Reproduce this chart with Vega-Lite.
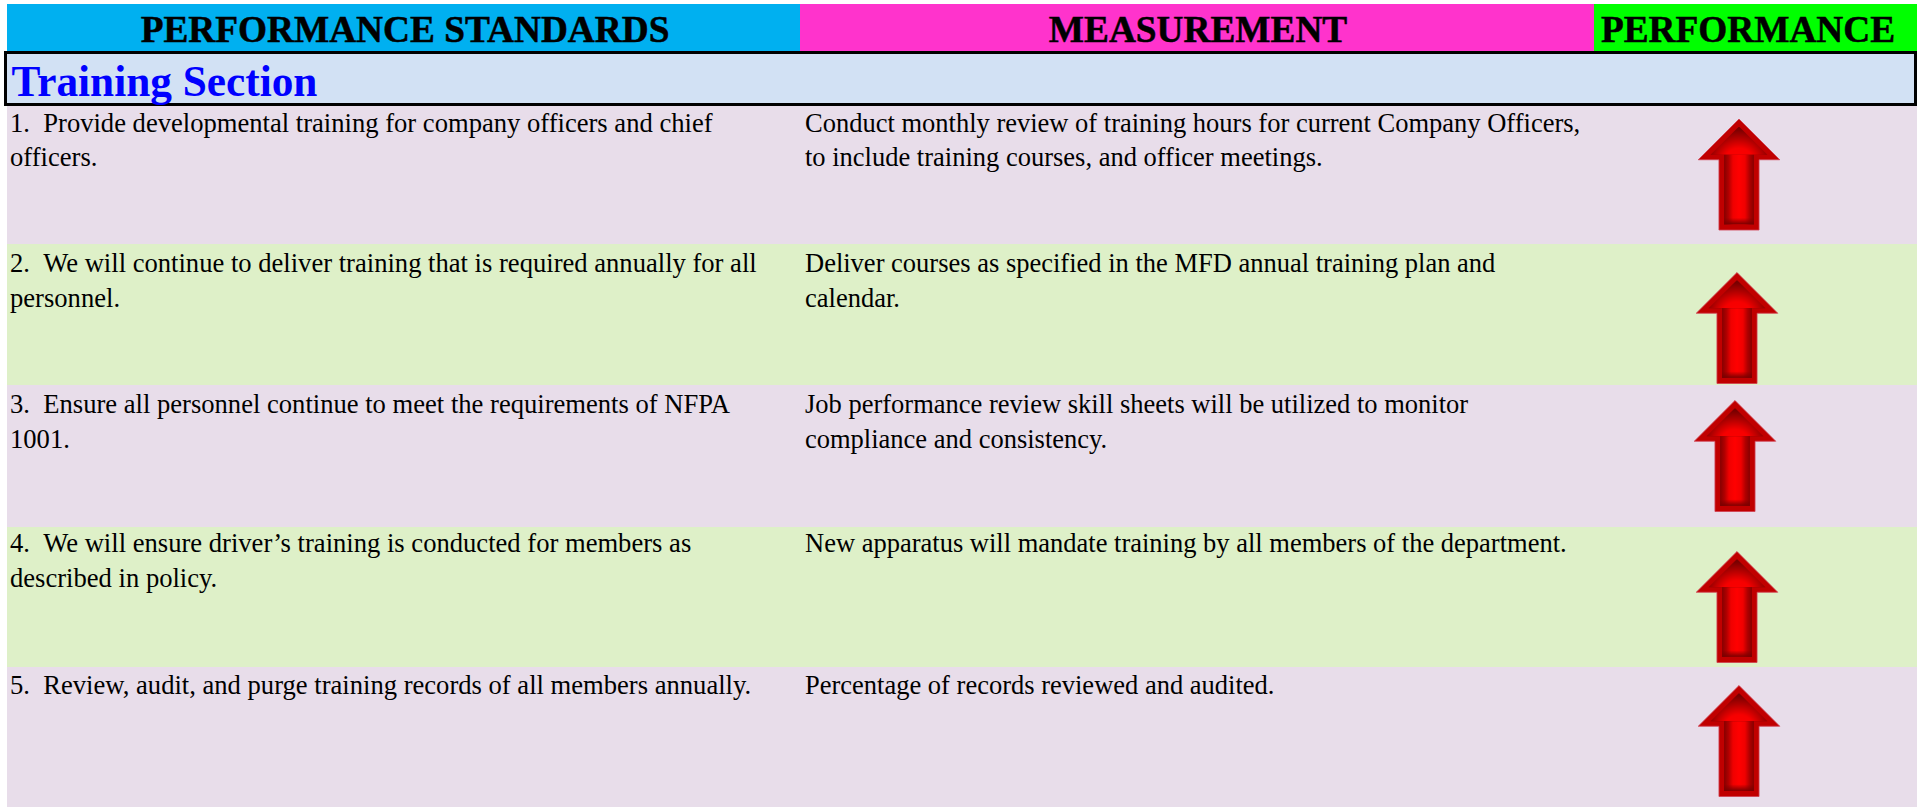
{"$schema":"https://vega.github.io/schema/vega-lite/v6.json","width":1923,"height":809,"padding":0,"autosize":"none","background":"white","config":{"view":{"stroke":null},"text":{"font":"Liberation Serif"}},
"datasets":{
"headers":[{"label":"PERFORMANCE STANDARDS","col":0,"colEnd":1,"row":0,"rowEnd":1},{"label":"MEASUREMENT","col":1,"colEnd":2,"row":0,"rowEnd":1},{"label":"PERFORMANCE","col":2,"colEnd":3,"row":0,"rowEnd":1}],
"section":[{"label":"Training Section","col":0,"colEnd":3,"row":1,"rowEnd":2}],
"rows":[
{"row":2,"rowEnd":3,"band":"odd","standard":"1. \u00a0Provide developmental training for company officers and chief\nofficers.","measurement":"Conduct monthly review of training hours for current Company Officers,\nto include training courses, and officer meetings.","performance":"up"},
{"row":3,"rowEnd":4,"band":"even","standard":"2. \u00a0We will continue to deliver training that is required annually for all\npersonnel.","measurement":"Deliver courses as specified in the MFD annual training plan and\ncalendar.","performance":"up"},
{"row":4,"rowEnd":5,"band":"odd","standard":"3. \u00a0Ensure all personnel continue to meet the requirements of NFPA\n1001.","measurement":"Job performance review skill sheets will be utilized to monitor\ncompliance and consistency.","performance":"up"},
{"row":5,"rowEnd":6,"band":"even","standard":"4. \u00a0We will ensure driver’s training is conducted for members as\ndescribed in policy.","measurement":"New apparatus will mandate training by all members of the department.","performance":"up"},
{"row":6,"rowEnd":7,"band":"odd","standard":"5. \u00a0Review, audit, and purge training records of all members annually.","measurement":"Percentage of records reviewed and audited.","performance":"up"}]},
"resolve":{"scale":{"x":"independent","y":"independent"}},
"layer":[
{"layer":[
{"data":{"name":"rows"},"mark":{"type":"rect"},"encoding":{"x":{"datum":0,"type":"quantitative","axis":null,"scale":{"domain":[0,1,2,3],"range":[7,800,1594,1917]}},"x2":{"datum":3},"y":{"field":"row","type":"quantitative","axis":null,"scale":{"domain":[0,1,2,3,4,5,6,7],"range":[4,52,106,244,385,527,667,807]}},"y2":{"field":"rowEnd"},"color":{"field":"band","type":"nominal","legend":null,"scale":{"domain":["odd","even"],"range":["#E8DDEA","#DEF0C8"]}}}},
{"data":{"name":"headers"},"mark":{"type":"rect"},"encoding":{"x":{"field":"col","type":"quantitative"},"x2":{"field":"colEnd"},"y":{"field":"row","type":"quantitative"},"y2":{"field":"rowEnd"},"fill":{"field":"label","type":"nominal","legend":null,"scale":{"domain":["PERFORMANCE STANDARDS","MEASUREMENT","PERFORMANCE"],"range":["#00B0F0","#FF33CC","#00FF00"]}}}}
]},
{"data":{"name":"section"},"layer":[
{"mark":{"type":"rect","fill":"#D2E1F4","stroke":"#000000","strokeWidth":3},"encoding":{"x":{"field":"col","type":"quantitative","axis":null,"scale":{"domain":[0,3],"range":[5.5,1915.5]}},"x2":{"field":"colEnd"},"y":{"field":"row","type":"quantitative","axis":null,"scale":{"domain":[1,2],"range":[52.5,104.5]}},"y2":{"field":"rowEnd"}}},
{"mark":{"type":"text","align":"left","baseline":"middle","font":"Liberation Serif","fontWeight":"bold","fontSize":43.3,"fill":"#0000FF","xOffset":6,"yOffset":30},"encoding":{"x":{"field":"col","type":"quantitative"},"y":{"field":"row","type":"quantitative"},"text":{"field":"label"}}}
]},
{"data":{"name":"headers"},"mark":{"type":"text","align":"center","baseline":"middle","font":"Liberation Serif","fontWeight":"bold","fontSize":37.3,"fill":"#000000","stroke":"#000000","strokeWidth":0.5},"encoding":{"x":{"field":"col","type":"quantitative","axis":null,"scale":{"domain":[0,1,2],"range":[405,1198,1748]}},"y":{"field":"row","type":"quantitative","axis":null,"scale":{"domain":[0,1],"range":[31,81]}},"text":{"field":"label"}}},
{"data":{"name":"rows"},"layer":[
{"mark":{"type":"text","align":"left","baseline":"top","font":"Liberation Serif","fontSize":26.6,"lineHeight":34.5,"lineBreak":"\n","fill":"#000000"},"encoding":{"x":{"datum":0,"type":"quantitative","axis":null,"scale":{"domain":[0,1],"range":[10,805]}},"y":{"field":"row","type":"quantitative","axis":null,"scale":{"domain":[2,3,4,5,6],"range":[110.5,251,392,531,673]}},"text":{"field":"standard"}}},
{"mark":{"type":"text","align":"left","baseline":"top","font":"Liberation Serif","fontSize":26.5,"lineHeight":34.5,"lineBreak":"\n","fill":"#000000"},"encoding":{"x":{"datum":1,"type":"quantitative"},"y":{"field":"row","type":"quantitative"},"text":{"field":"measurement"}}}
]},
{"data":{"name":"rows"},"encoding":{"x":{"field":"row","type":"quantitative","axis":null,"scale":{"domain":[2,3,4,5,6],"range":[1739,1737,1735,1737,1739]}},"y":{"field":"row","type":"quantitative","axis":null,"scale":{"domain":[2,3,4,5,6],"range":[174.5,328,456,607,741]}}},"layer":[
{"mark":{"type":"point","filled":true,"opacity":1,"size":12321,"shape":"M0,-1 L0.734,-0.266 L0.361,-0.266 L0.361,1 L-0.361,1 L-0.361,-0.266 L-0.734,-0.266 Z","fill":"#C00000","stroke":"#D04050","strokeWidth":0.8}},
{"mark":{"type":"point","filled":true,"opacity":1,"size":12321,"shape":"M0.269,-0.4 L0.269,0.899 L-0.269,0.899 L-0.269,-0.4 Z","strokeWidth":0,"fill":{"gradient":"linear","x1":0,"x2":1,"y1":0,"y2":0,"stops":[{"offset":0,"color":"#860000"},{"offset":0.15,"color":"#B00000"},{"offset":0.3,"color":"#F00000"},{"offset":0.5,"color":"#FF0000"},{"offset":0.7,"color":"#F00000"},{"offset":0.85,"color":"#B00000"},{"offset":1,"color":"#860000"}]}}},
{"mark":{"type":"point","filled":true,"opacity":1,"size":12321,"shape":"M0.269,0.78 L0.269,0.899 L-0.269,0.899 L-0.269,0.78 Z","strokeWidth":0,"fill":{"gradient":"linear","x1":0,"x2":0,"y1":0,"y2":1,"stops":[{"offset":0,"color":"rgba(120,0,0,0)"},{"offset":1,"color":"rgba(120,0,0,1)"}]}}},
{"mark":{"type":"point","filled":true,"opacity":1,"size":12321,"shape":"M0,-0.863 L0.513,-0.355 L-0.513,-0.355 Z","strokeWidth":0,"fill":{"gradient":"radial","x1":0.5,"y1":0.9,"x2":0.5,"y2":0.9,"r1":0,"r2":0.6,"stops":[{"offset":0,"color":"#FF0000"},{"offset":0.45,"color":"#F60000"},{"offset":0.75,"color":"#B00000"},{"offset":1,"color":"#780000"}]}}}
]}
]}
